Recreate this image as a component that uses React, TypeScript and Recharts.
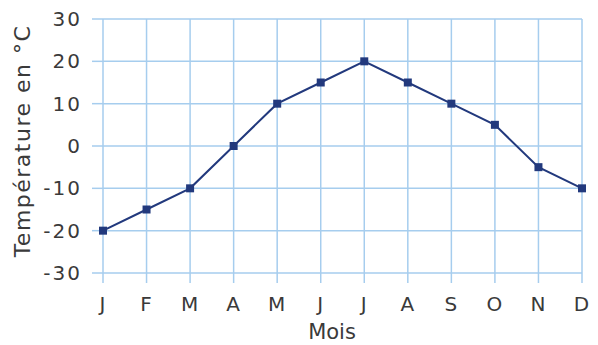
import { CartesianGrid, Line, LineChart, XAxis, YAxis, Label } from 'recharts'

const MONTHS = ['J', 'F', 'M', 'A', 'M', 'J', 'J', 'A', 'S', 'O', 'N', 'D']
const TEMPS = [-20, -15, -10, 0, 10, 15, 20, 15, 10, 5, -5, -10]
const Y_TICKS = [-30, -20, -10, 0, 10, 20, 30]

const data = MONTHS.map((m, i) => ({ key: i, month: m, temp: TEMPS[i] }))

const GRID = '#a6cdee'
const LINE = '#22397d'
const TEXT = '#3a3a3a'
const FONT = '"DejaVu Sans", sans-serif'

function SquareDot(props: any) {
  const { cx, cy, index } = props
  if (cx == null || cy == null) return null
  return <rect key={index} x={cx - 4} y={cy - 4} width={8} height={8} fill={LINE} />
}

function YTitle() {
  return (
    <text
      x={0}
      y={0}
      transform="translate(30, 141) rotate(-90)"
      textAnchor="middle"
      fill={TEXT}
      fontSize={22}
      fontFamily={FONT}
      letterSpacing={1.5}
    >
      Température en °C
    </text>
  )
}

function XTitle() {
  return (
    <text x={332} y={339} textAnchor="middle" fill={TEXT} fontSize={21} fontFamily={FONT}>
      Mois
    </text>
  )
}

export default function App() {
  return (
    <div style={{ position: 'absolute', left: 0, top: 0, width: 598, height: 345, background: '#fff' }}>
      <LineChart width={598} height={345} data={data} margin={{ top: 19, right: 16, bottom: 0, left: 0 }}>
        <CartesianGrid stroke={GRID} strokeWidth={1.5} />
        <XAxis
          dataKey="key"
          tickFormatter={(i) => MONTHS[i]}
          interval={0}
          height={72}
          axisLine={false}
          tickLine={{ stroke: GRID, strokeWidth: 1.5 }}
          tickSize={10}
          tickMargin={14}
          tick={{ fill: TEXT, fontSize: 20, fontFamily: FONT, letterSpacing: 1 }}
        >
          <Label content={<XTitle />} />
        </XAxis>
        <YAxis
          domain={[-30, 30]}
          ticks={Y_TICKS}
          width={103}
          axisLine={false}
          tickLine={{ stroke: GRID, strokeWidth: 1.5 }}
          tickSize={11}
          tickMargin={10}
          tick={{ fill: TEXT, fontSize: 20, fontFamily: FONT, letterSpacing: 2 }}
        >
          <Label content={<YTitle />} />
        </YAxis>
        <Line
          type="linear"
          dataKey="temp"
          stroke={LINE}
          strokeWidth={2}
          dot={<SquareDot />}
          activeDot={false}
          isAnimationActive={false}
        />
      </LineChart>
    </div>
  )
}
